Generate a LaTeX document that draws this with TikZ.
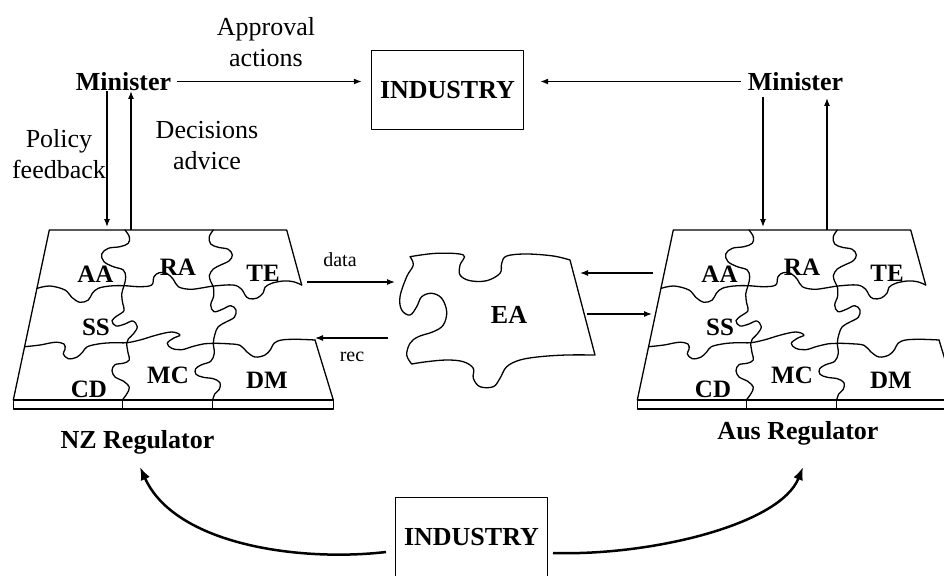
\documentclass[tikz,border=0pt]{standalone}
\usepackage{fontspec}
\setmainfont{Liberation Serif}
\usetikzlibrary{arrows.meta}

\tikzset{
  pz/.style={line width=1.3pt, line join=round, line cap=round},
  conn/.style={line width=1.2pt, -{Latex[length=8pt,width=6pt]}},
  bigconn/.style={line width=2.5pt, -{Latex[length=13pt,width=10pt]}},
  lbl/.style={font=\fontsize{26}{31}\selectfont, align=center, inner sep=0pt},
  blbl/.style={font=\fontsize{26}{31}\selectfont\bfseries, inner sep=0pt},
  plbl/.style={font=\fontsize{25}{30}\selectfont\bfseries, inner sep=0pt},
  slbl/.style={font=\fontsize{20}{24}\selectfont, inner sep=0pt},
  indbox/.style={minimum width=151pt, minimum height=78pt,
                 inner sep=0pt, font=\fontsize{26}{31}\selectfont\bfseries},
  % one regulator drawn as a jigsaw of seven functions on a slanted board
  regulator/.pic={
    % board outline and base strip
    \draw[pz] (13.3,400) -- (49.3,230) -- (286.7,230) -- (301.7,285);
    \draw[pz] (315,340) -- (333.3,400);
    \draw[pz] (13.3,400) rectangle (333.3,409);
    \draw[pz] (122.3,400) -- (122.3,409);
    \draw[pz] (212.7,400) -- (212.7,409);
    % upper row seam
    \draw[pz] plot[smooth, tension=0.6] coordinates {
      (37.3,288.3) (50,286) (65,290) (71.7,297.3) (80,302.3) (88.3,300)
      (92.3,293.3) (98.3,288.3) (110,286) (124,285.7) (140,286.7) (151.7,285)
      (154,276.7) (159.3,272.7) (166.7,273.3) (173.3,279.3) (178.3,286.7)
      (190,289.3) (203.3,287.7) (214,286) (233.3,285) (241.7,289.3) (245,295)
      (249.3,298.7) (257.3,298) (263.3,292.7) (265,287.3) (271.7,283.3)
      (283.3,281) (293.3,281.7) (301.7,285)};
    % lower row seam
    \draw[pz] plot[smooth, tension=0.6] coordinates {
      (25,346.7) (40,345) (55,342.3) (64,344) (65,349.3) (63.3,354) (68.3,358.7)
      (76.7,357.3) (82.7,352) (87.3,346.7) (100,343.7) (113.3,342.7)
      (126.7,342.7) (140,340) (156.7,335) (171.7,332) (180,335) (173.3,338.3)
      (167.3,343.3) (171.7,348.3) (181.7,349.7) (193.3,346.3) (205,343.7)
      (213.3,343.3) (226.7,343.7) (240,345.3) (246.7,351.7) (255,357) (265,355)
      (270.7,349.3) (274,343.3) (281.7,340) (296.7,339.3) (315,340)};
    % left column seam
    \draw[pz] plot[smooth, tension=0.6] coordinates {
      (125,230) (129.3,236.7) (128.3,243.3) (120,246.7) (108.3,248.3)
      (101.7,254) (104,261.7) (113.3,266.7) (123.3,270) (125.7,277.3)
      (124,285.7) (121.7,294) (122.7,303.3) (124,310.7) (117.3,315.7)
      (112,320.7) (116,326) (125,324) (132.7,321) (137.3,326.7) (133.3,334)
      (128.3,339) (126.7,343.3) (128,352.7) (129.3,360) (123.3,363.3)
      (115,364.7) (112,370.7) (115.3,377.3) (123.3,381) (129.3,387.3)
      (126.7,394) (122.3,400)};
    % right column seam
    \draw[pz] plot[smooth, tension=0.6] coordinates {
      (213.3,230) (209.3,236.7) (210.7,244) (218.3,247.3) (228.3,249.3)
      (232.3,255) (229.3,260.7) (220.7,265) (213.3,269) (209.3,275.7)
      (211,282) (213.3,286.7) (213.7,296) (210.7,305) (214,311.7)
      (222.3,309.3) (230.7,305.7) (236,310) (234.3,317.3) (226,322)
      (218.3,326.7) (215,334) (213.3,343.3) (214.3,353.3) (210.7,361.3)
      (201.7,364.7) (195.7,368.7) (196,374.3) (203.3,377.3) (213.3,378.7)
      (220,382.7) (219.3,389.3) (214.7,394) (212.7,400)};
    % piece names
    \node[plbl] at (95.5,274) {AA};
    \node[plbl] at (178,267) {RA};
    \node[plbl] at (263,273) {TE};
    \node[plbl] at (96,327) {SS};
    \node[plbl] at (168,375) {MC};
    \node[plbl] at (89,389) {CD};
    \node[plbl] at (267,380) {DM};
  }
}

\begin{document}
\begin{tikzpicture}[x=1pt, y=-1pt]
  \useasboundingbox (0,0) rectangle (944,575);
  \clip (0,0) rectangle (944,575);

  % the two regulators
  \pic at (0,0) {regulator};
  \pic at (624,0) {regulator};

  % shared piece between them
  \draw[pz] plot[smooth, tension=0.6] coordinates {
      (410,256.7) (436.7,253.3) (463.3,255) (460,265) (460,275) (470,280.7)
      (486.7,280.7) (500,273.3) (501.7,263.3) (506.7,256) (526.7,254)
      (553.3,256) (570,260)}
    -- plot[smooth, tension=0.6] coordinates {
      (595,355) (566.7,355) (540,356.7) (520,360) (506.7,366.7) (500,378.3)
      (493.3,386.7) (480,386.7) (473.3,378.3) (473.3,368.3) (463.3,361.7)
      (446.7,360) (426.7,361.7) (411.7,364)}
    -- plot[smooth, tension=0.6] coordinates {
      (411.7,364) (406.7,355) (410,343.3) (418.3,336.7) (433.3,331.7)
      (443.3,325) (446.7,311.7) (441.7,298.3) (431.7,293.3) (421.7,296.7)
      (416.7,306.7) (410,315) (401.7,310) (400,296.7) (406.7,276.7)
      (413.3,265) (410,256.7)};
  \node[blbl] (ea) at (509,315) {EA};

  % text nodes
  \node[blbl] (minL) at (123.5,81.5) {Minister};
  \node[blbl] (minR) at (795.5,81.5) {Minister};
  \node[indbox] (ind) at (447.5,90) {INDUSTRY};
  \draw[pz] (ind.north west) rectangle (ind.south east);
  \node[indbox] (ind2) at (471.5,537) {INDUSTRY};
  \draw[pz] ([yshift=-30pt]ind2.south west) -- (ind2.north west)
            -- (ind2.north east) -- ([yshift=-30pt]ind2.south east);
  \node[lbl] (appr) at (266,42) {Approval\\actions};
  \node[lbl] (pol) at (59,154) {Policy\\feedback};
  \node[lbl] (dec) at (207,146) {Decisions\\advice};
  \node[blbl] (nz) at (137.5,442) {NZ Regulator};
  \node[blbl] (aus) at (798,433) {Aus Regulator};
  \node[slbl] (data) at (340,260) {data};
  \node[slbl] (rec) at (352,357) {rec};

  % connector ends on the boards and the shared piece
  \coordinate (nzDownEnd) at (107,227);
  \coordinate (nzUpStart) at (131,230);
  \coordinate (auDownEnd) at (763,227);
  \coordinate (auUpStart) at (827,230);
  \coordinate (nzOut) at (307,282);
  \coordinate (eaIn) at (395,282);
  \coordinate (eaOutL) at (388,338);
  \coordinate (nzIn) at (315,338);
  \coordinate (auOut) at (653,273);
  \coordinate (eaInR) at (580,273);
  \coordinate (eaOutR) at (587,314);
  \coordinate (auIn) at (652,314);
  \coordinate (indL) at (386,552);
  \coordinate (indR) at (553,553);
  \coordinate (nzTip) at (140,467);
  \coordinate (auTip) at (803,467);

  % ministers to industry
  \draw[conn] ([xshift=6pt]minL.east) -- ([xshift=-10pt]ind.west |- minL.east);
  \draw[conn] ([xshift=-7pt]minR.west) -- ([xshift=17pt]ind.east |- minR.west);

  % ministers and regulators
  \draw[conn] ([xshift=-16.5pt]minL.south) -- (nzDownEnd);
  \draw[conn] (nzUpStart) -- (131,91);
  \draw[conn] (763,97) -- (auDownEnd);
  \draw[conn] (auUpStart) -- (827,98);

  % data exchange with the shared piece
  \draw[conn] (nzOut) -- (eaIn);
  \draw[conn] (eaOutL) -- (nzIn);
  \draw[conn] (auOut) -- (eaInR);
  \draw[conn] (eaOutR) -- (auIn);

  % industry feeding both regulators
  \draw[bigconn] (indL) .. controls (300,562) and (175,545) .. (nzTip);
  \draw[bigconn] (indR) .. controls (650,556) and (780,525) .. (auTip);
\end{tikzpicture}
\end{document}
